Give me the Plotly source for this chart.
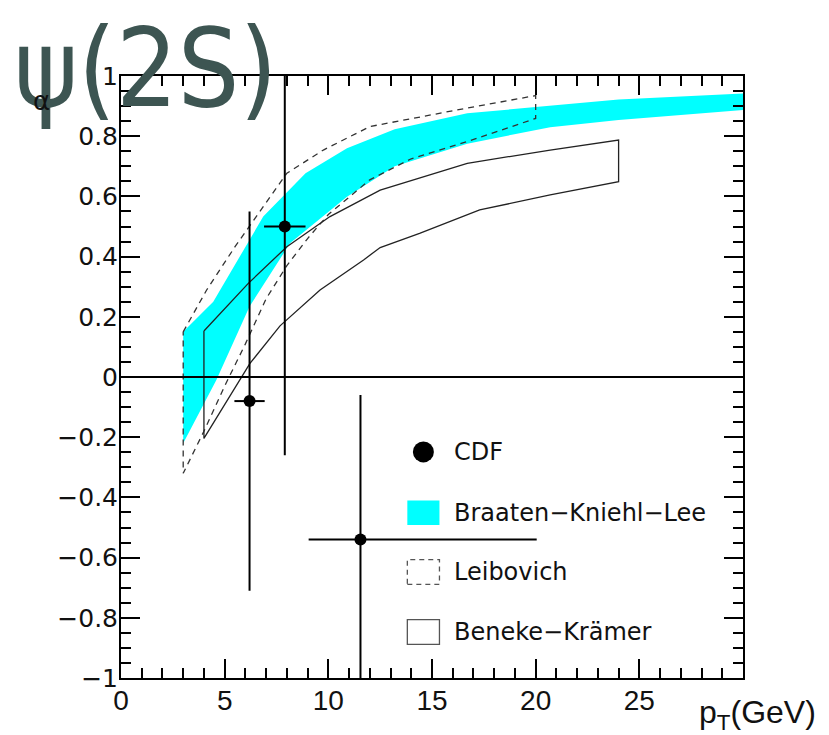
import plotly.graph_objects as go

# CDF measurement of the psi(2S) polarisation parameter alpha
cdf_pt = [6.2, 7.9, 11.55]
cdf_alpha = [-0.08, 0.50, -0.54]
cdf_pt_err_minus = [0.73, 1.0, 2.5]
cdf_pt_err_plus = [0.73, 1.0, 8.5]
cdf_alpha_err = [0.63, 0.76, 0.48]

# Braaten-Kniehl-Lee prediction band
bkl_upper_pt = [3.0, 4.45, 6.86, 8.9, 10.9, 13.2, 16.7, 24.0, 30.0]
bkl_upper = [0.15, 0.25, 0.533, 0.677, 0.76, 0.823, 0.876, 0.922, 0.942]
bkl_lower_pt = [3.0, 4.6, 6.2, 8.15, 10.9, 13.2, 16.7, 20.7, 24.0, 30.0]
bkl_lower = [-0.22, -0.01, 0.234, 0.444, 0.599, 0.70, 0.775, 0.83, 0.854, 0.887]

# Leibovich prediction band
lei_upper_pt = [3.0, 4.13, 5.5, 8.0, 9.76, 12.0, 16.2, 20.0]
lei_upper = [0.15, 0.289, 0.433, 0.677, 0.754, 0.832, 0.887, 0.935]
lei_lower_pt = [3.0, 4.0, 5.0, 6.0, 7.0, 8.0, 9.0, 10.0, 12.0, 14.0, 16.7, 20.0]
lei_lower = [-0.32, -0.18, -0.03, 0.11, 0.26, 0.37, 0.46, 0.54, 0.655, 0.725, 0.782, 0.859]

# Beneke-Kraemer prediction band
bk_upper_pt = [4.0, 6.14, 8.0, 10.08, 12.5, 16.7, 20.7, 24.0]
bk_upper = [0.153, 0.311, 0.433, 0.533, 0.621, 0.71, 0.754, 0.787]
bk_lower_pt = [4.0, 6.22, 7.67, 9.6, 11.7, 12.5, 14.4, 17.3, 20.7, 24.0]
bk_lower = [-0.204, 0.045, 0.17, 0.289, 0.389, 0.43, 0.477, 0.555, 0.605, 0.649]

# Axis ticks
x_tickvals = [0, 5, 10, 15, 20, 25]
x_ticktext = ["0", "5", "10", "15", "20", "25"]
y_tickvals = [-1, -0.8, -0.6, -0.4, -0.2, 0, 0.2, 0.4, 0.6, 0.8, 1]
y_ticktext = ["\u22121", "\u22120.8", "\u22120.6", "\u22120.4", "\u22120.2", "0",
              "0.2", "0.4", "0.6", "0.8", "1"]

legend_labels = ["CDF", "Braaten\u2212Kniehl\u2212Lee", "Leibovich", "Beneke\u2212Kr\u00e4mer"]


def band_outline(xu, yu, xl, yl):
    """Closed outline: upper edge left->right, lower edge right->left, back to start."""
    xs = list(xu) + list(reversed(xl)) + [xu[0]]
    ys = list(yu) + list(reversed(yl)) + [yu[0]]
    return xs, ys


fig = go.Figure()

bx, by = band_outline(bkl_upper_pt, bkl_upper, bkl_lower_pt, bkl_lower)
fig.add_trace(go.Scatter(x=bx, y=by, mode="lines", fill="toself",
                         fillcolor="#00ffff", line=dict(width=0, color="#00ffff"),
                         hoverinfo="skip"))

lx, ly = band_outline(lei_upper_pt, lei_upper, lei_lower_pt, lei_lower)
fig.add_trace(go.Scatter(x=lx, y=ly, mode="lines",
                         line=dict(color="#333333", width=1.3, dash="6px,5px"),
                         hoverinfo="skip"))

kx, ky = band_outline(bk_upper_pt, bk_upper, bk_lower_pt, bk_lower)
fig.add_trace(go.Scatter(x=kx, y=ky, mode="lines",
                         line=dict(color="#222222", width=1.3),
                         hoverinfo="skip"))

fig.add_trace(go.Scatter(
    x=cdf_pt, y=cdf_alpha, mode="markers",
    marker=dict(color="black", size=12),
    error_x=dict(type="data", symmetric=False, array=cdf_pt_err_plus,
                 arrayminus=cdf_pt_err_minus, color="black", thickness=2, width=0),
    error_y=dict(type="data", array=cdf_alpha_err, color="black", thickness=2, width=0),
))

# Legend drawn inside the frame
leg_box_x0, leg_box_x1 = 13.81, 15.36
leg_text_x = 15.95
leg_rows = [-0.249, -0.451, -0.648, -0.847]
box_half = 0.041

fig.add_trace(go.Scatter(x=[(leg_box_x0 + leg_box_x1) / 2], y=[leg_rows[0]],
                         mode="markers", marker=dict(color="black", size=21),
                         hoverinfo="skip"))

shapes = [
    dict(type="line", xref="x domain", yref="y", x0=0, x1=1, y0=0, y1=0,
         line=dict(color="black", width=2), layer="above"),
    dict(type="rect", xref="x", yref="y", x0=leg_box_x0, x1=leg_box_x1,
         y0=leg_rows[1] - box_half, y1=leg_rows[1] + box_half,
         fillcolor="#00ffff", line=dict(width=0)),
    dict(type="rect", xref="x", yref="y", x0=leg_box_x0, x1=leg_box_x1,
         y0=leg_rows[2] - box_half, y1=leg_rows[2] + box_half,
         line=dict(color="#555555", width=1.3, dash="5px,4px")),
    dict(type="rect", xref="x", yref="y", x0=leg_box_x0, x1=leg_box_x1,
         y0=leg_rows[3] - box_half, y1=leg_rows[3] + box_half,
         line=dict(color="#555555", width=1.3)),
]

annotations = []
for label, yrow in zip(legend_labels, leg_rows):
    annotations.append(dict(x=leg_text_x, y=yrow, xref="x", yref="y", text=label,
                            showarrow=False, xanchor="left", yanchor="middle",
                            font=dict(family="DejaVu Sans", size=24, color="#111111")))

annotations.append(dict(x=818, y=714, xref="paper", yref="paper", text="p<sub>T</sub>(GeV)",
                        showarrow=False, xanchor="right", yanchor="middle",
                        font=dict(family="Liberation Sans, Arial", size=32, color="#111111")))
annotations.append(dict(x=12, y=4, xref="paper", yref="paper", text="\u03c8(2S)",
                        showarrow=False, xanchor="left", yanchor="top",
                        font=dict(family="DejaVu Sans Condensed, Liberation Sans Narrow, sans-serif",
                                  size=108, color="#3d5552")))
annotations.append(dict(x=41, y=101, xref="paper", yref="paper", text="\u03b1",
                        showarrow=False, xanchor="center", yanchor="middle",
                        font=dict(family="DejaVu Sans", size=26, color="#111111")))

W, H = 829, 735
ML, MR, MT, MB = 121, 86, 76, 57

# convert the pixel-placed annotations to paper fractions
for a in annotations:
    if a["xref"] == "paper":
        a["x"] = (a["x"] - ML) / (W - ML - MR)
        a["y"] = 1 - (a["y"] - MT) / (H - MT - MB)

fig.update_layout(
    width=W, height=H,
    margin=dict(l=ML, r=MR, t=MT, b=MB, pad=0),
    template="none",
    plot_bgcolor="white", paper_bgcolor="white",
    showlegend=False,
    shapes=shapes,
    annotations=annotations,
)

fig.update_xaxes(
    range=[0, 30], showgrid=False, zeroline=False,
    showline=True, linecolor="black", linewidth=2, mirror="ticks",
    ticks="inside", ticklen=19, tickwidth=2, tickcolor="black",
    tickvals=x_tickvals, ticktext=x_ticktext,
    tickfont=dict(family="Liberation Sans, Arial", size=28, color="#111111"),
    ticklabelstandoff=-4,
    minor=dict(dtick=1, ticks="inside", ticklen=10, tickwidth=2, tickcolor="black"),
    automargin=False,
)
fig.update_yaxes(
    range=[-1, 1], showgrid=False, zeroline=False,
    showline=True, linecolor="black", linewidth=2, mirror="ticks",
    ticks="inside", ticklen=19, tickwidth=2, tickcolor="black",
    tickvals=y_tickvals, ticktext=y_ticktext,
    tickfont=dict(family="DejaVu Sans", size=25, color="#111111"),
    ticklabelstandoff=-4,
    minor=dict(dtick=0.05, ticks="inside", ticklen=10, tickwidth=2, tickcolor="black"),
    automargin=False,
)

fig.write_html("out.html")
